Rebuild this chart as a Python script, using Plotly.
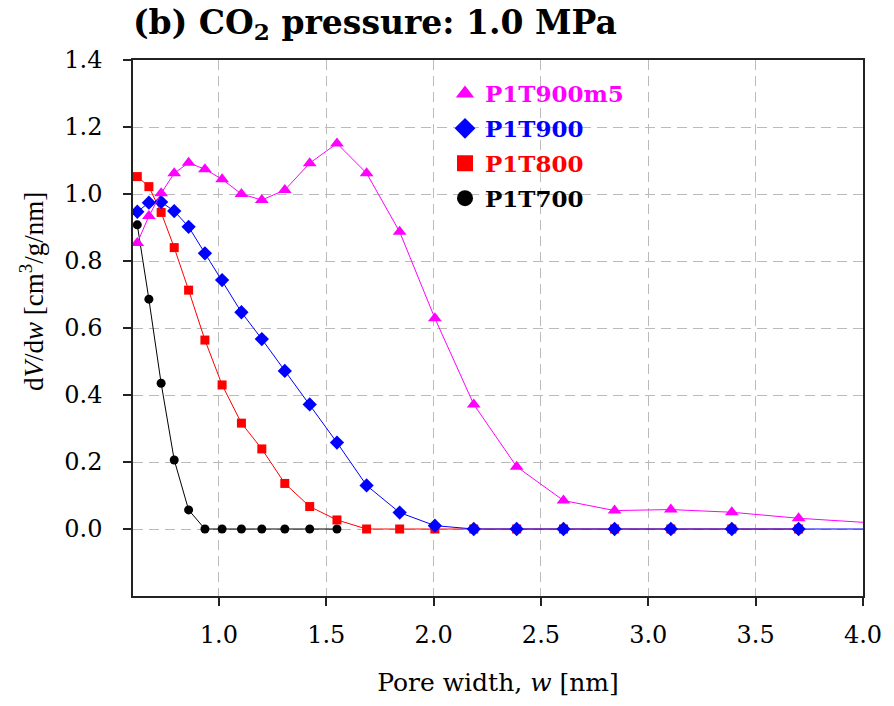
import plotly.graph_objects as go

w = [0.62, 0.674, 0.731, 0.792, 0.859, 0.935, 1.015, 1.105, 1.2, 1.307, 1.423, 1.55,
     1.688, 1.842, 2.006, 2.187, 2.387, 2.605, 2.843, 3.105, 3.389, 3.70, 4.05]

m5 = [0.854, 0.934, 1.002, 1.062, 1.093, 1.074, 1.044, 1.0, 0.982, 1.012, 1.092, 1.151,
      1.062, 0.887, 0.629, 0.372, 0.186, 0.085, 0.055, 0.058, 0.050, 0.032, 0.018]
t900 = [0.947, 0.974, 0.976, 0.949, 0.902, 0.823, 0.743, 0.647, 0.567, 0.472, 0.372, 0.258,
        0.130, 0.049, 0.010, 0.0, 0.0, 0.0, 0.0, 0.0, 0.0, 0.0, 0.0]
t800 = [1.052, 1.022, 0.945, 0.840, 0.713, 0.564, 0.430, 0.316, 0.239, 0.136, 0.067, 0.027,
        0.0, 0.0, 0.0, 0.0, 0.0, 0.0, 0.0, 0.0, 0.0, 0.0]
t700 = [0.908, 0.686, 0.435, 0.206, 0.057, 0.0, 0.0, 0.0, 0.0, 0.0, 0.0, 0.0]

names = ["P1T900m5", "P1T900", "P1T800", "P1T700"]
colors = ["#FF00FF", "#0000FF", "#FF0000", "#000000"]
symbols = ["triangle-up", "diamond", "square", "circle"]
sizes = [12, 11, 9, 9]
series = [m5, t900, t800, t700]

xticks = [1.0, 1.5, 2.0, 2.5, 3.0, 3.5, 4.0]
xticklabels = ["1.0", "1.5", "2.0", "2.5", "3.0", "3.5", "4.0"]
yticks = [0.0, 0.2, 0.4, 0.6, 0.8, 1.0, 1.2, 1.4]
yticklabels = ["0.0", "0.2", "0.4", "0.6", "0.8", "1.0", "1.2", "1.4"]

fig = go.Figure()
# data traces (drawn black first, magenta last)
for i in [3, 2, 1, 0]:
    ys = series[i]
    fig.add_trace(go.Scatter(
        x=w[:len(ys)], y=ys, mode="lines+markers", showlegend=False,
        line=dict(color=colors[i], width=1),
        marker=dict(symbol=symbols[i], size=sizes[i], color=colors[i]),
    ))
# legend entries (markers only, like the reference legend)
for i in range(4):
    fig.add_trace(go.Scatter(
        x=[None], y=[None], mode="markers", legendgroup=f"g{i}",
        name=f"<b><span style='color:{colors[i]}'>{names[i]}</span></b>",
        marker=dict(symbol=symbols[i], size=20, color=colors[i]),
    ))

serif = "DejaVu Serif, serif"
times = "Liberation Serif, Times New Roman, serif"
axis_common = dict(showgrid=True, gridcolor="#BBBBBB", gridwidth=1, griddash="10px,6px",
                   showline=True, linecolor="#222222", linewidth=1.5, mirror=True,
                   ticks="outside", ticklen=8, tickcolor="#222222", tickwidth=1.5,
                   zeroline=False, tickfont=dict(family=serif, size=24, color="black"))

fig.update_layout(
    width=894, height=706,
    margin=dict(l=133, r=24, t=60, b=110),
    paper_bgcolor="white", plot_bgcolor="white",
    title=dict(text="<b>(b) CO<sub>2</sub> pressure: 1.0 MPa</b>",
               x=133/894, xanchor="left", y=1 - 22/706, yanchor="middle",
               font=dict(family=serif, size=33, color="black")),
    xaxis=dict(range=[0.6, 4.0], tickvals=xticks, ticktext=xticklabels,
               ticklabelstandoff=8,
               title=dict(text="Pore width, <i>w</i> [nm]", standoff=26,
                          font=dict(family=serif, size=25, color="black")), **axis_common),
    yaxis=dict(range=[-0.2, 1.4], tickvals=yticks, ticktext=yticklabels,
               ticklabelstandoff=16, **axis_common),
    legend=dict(x=(448 - 133) / 737, y=1 - 12 / 536, xanchor="left", yanchor="top",
                bgcolor="rgba(0,0,0,0)", tracegroupgap=2, itemsizing="trace",
                font=dict(family=serif, size=23, color="black")),
    showlegend=True,
    annotations=[dict(text="d<i>V</i>/d<i>w</i> [cm<sup>3</sup>/g/nm]", textangle=-90,
                      xref="paper", yref="paper", x=(31 - 133) / 737, y=(596 - 291) / 536,
                      xanchor="center", yanchor="middle", showarrow=False,
                      font=dict(family=times, size=27, color="black"))],
)

fig.write_html("out.html", config={"displayModeBar": False},
               post_script="document.body.style.margin='0px';document.body.style.overflow='hidden';")
